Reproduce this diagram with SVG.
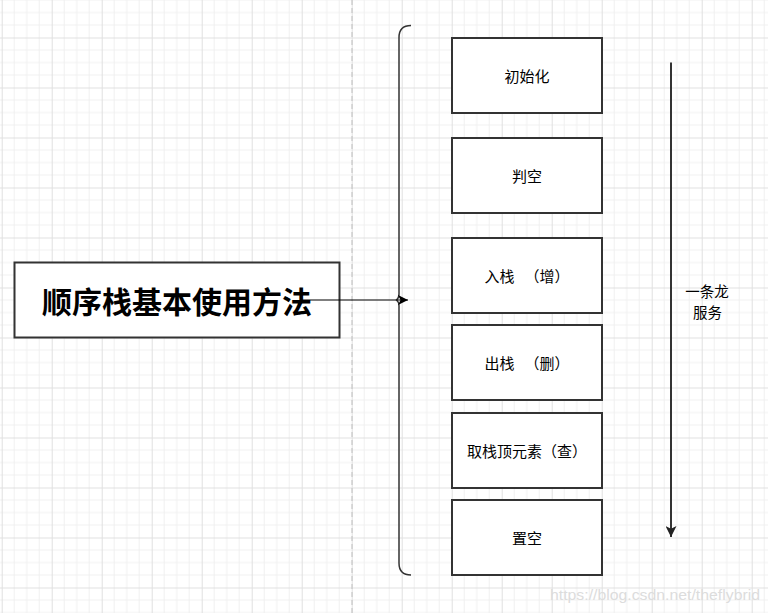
<svg xmlns="http://www.w3.org/2000/svg" width="768" height="613" viewBox="0 0 768 613">
<defs>
<pattern id="grid" x="1.7" y="37.5" width="50" height="50" patternUnits="userSpaceOnUse">
<path d="M12.5 0V50M25 0V50M37.5 0V50M0 12.5H50M0 25H50M0 37.5H50" stroke="#f0f0f0" stroke-width="1" fill="none"/>
<path d="M0.5 0V50M0 0.5H50" stroke="#e0e0e0" stroke-width="1" fill="none"/>
</pattern>
<marker id="ah" viewBox="0 0 10 10" refX="10" refY="5" markerWidth="10" markerHeight="10" markerUnits="userSpaceOnUse" orient="auto">
<path d="M0 0L10 5L0 10L2.5 5Z" fill="#000"/>
</marker>
<marker id="ah2" viewBox="0 0 10 10" refX="10" refY="5" markerWidth="11" markerHeight="11" markerUnits="userSpaceOnUse" orient="auto">
<path d="M0 0L10 5L0 10L2.5 5Z" fill="#222"/>
</marker>
</defs>
<style>
.box{fill:#fff;stroke:#333;stroke-width:2}
.lbl{font-family:"Noto Sans CJK SC","Liberation Sans",sans-serif;font-size:15px;fill:#000;text-anchor:middle;dominant-baseline:central;white-space:pre}
.note{font-size:14.5px}
.title{font-family:"Noto Sans CJK SC","Liberation Sans",sans-serif;font-size:30px;font-weight:bold;fill:#000;text-anchor:middle;dominant-baseline:central}
</style>
<rect x="0" y="0" width="768" height="613" fill="#fff"/>
<rect x="0" y="0" width="768" height="613" fill="url(#grid)"/>
<line x1="352" y1="0" x2="352" y2="613" stroke="#c0c0c0" stroke-width="1" stroke-dasharray="5,3"/>
<g id="title">
<rect class="box" x="14.5" y="262.5" width="325" height="75"/>
<text class="title" x="177" y="300">顺序栈基本使用方法</text>
</g>
<g id="brace">
<path d="M411 25.5Q399 25.5 399 37.5V294Q399 298 396.5 300Q399 302 399 306V563Q399 575 411 575" fill="none" stroke="#333" stroke-width="1.5"/>
</g>
<g id="n1"><rect class="box" x="452" y="38" width="150" height="75"/><text class="lbl" x="527" y="75.5">初始化</text></g>
<g id="n2"><rect class="box" x="452" y="138" width="150" height="75"/><text class="lbl" x="527" y="175.5">判空</text></g>
<g id="n3"><rect class="box" x="452" y="238" width="150" height="75"/><text class="lbl" x="527" y="275.5">入栈   （增）</text></g>
<g id="n4"><rect class="box" x="452" y="325" width="150" height="75"/><text class="lbl" x="527" y="362.5">出栈   （删）</text></g>
<g id="n5"><rect class="box" x="452" y="413" width="150" height="75"/><text class="lbl" x="527" y="450.5">取栈顶元素（查）</text></g>
<g id="n6"><rect class="box" x="452" y="500" width="150" height="75"/><text class="lbl" x="527" y="537.5">置空</text></g>
<g id="connectors">
<line x1="302" y1="300" x2="408" y2="300" stroke="#000" stroke-width="1.2" marker-end="url(#ah)"/>
<line x1="671" y1="62.5" x2="671" y2="537" stroke="#333" stroke-width="2" marker-end="url(#ah2)"/>
</g>
<g id="note">
<text class="lbl note" x="707" y="290.5">一条龙</text>
<text class="lbl note" x="707.5" y="311">服务</text>
</g>
<text x="550" y="600" font-family="Liberation Sans, Arial, sans-serif" font-size="15" fill="#dcdcdc" textLength="210" lengthAdjust="spacingAndGlyphs">https://blog.csdn.net/theflybrid</text>
</svg>
